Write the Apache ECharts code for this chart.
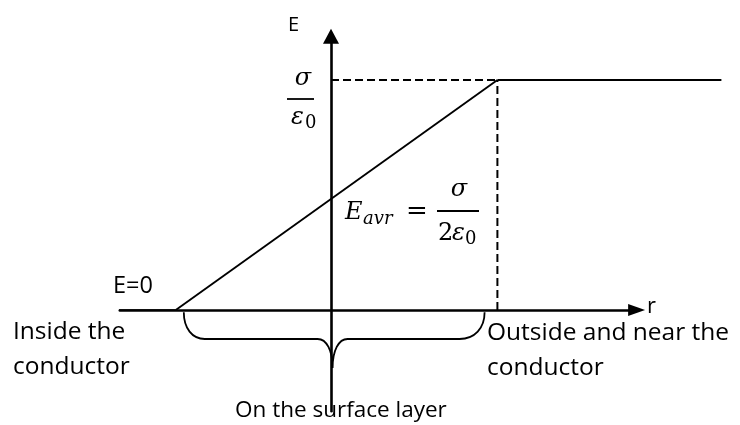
<!DOCTYPE html>
<html>
<head>
<meta charset="utf-8">
<script src="https://cdn.jsdelivr.net/npm/echarts@6/dist/echarts.min.js"></script>
<style>
html, body { margin: 0; padding: 0; background: #fff; }
#chart { width: 740px; height: 425px; }
</style>
</head>
<body>
<div id="chart"></div>
<script>
// E in units of sigma/eps0, r in arbitrary units (layer from rLayer[0] to rLayer[1])
var rInside = [-1.43, -0.97], eInside = [0, 0];
var rLayer = [-0.97, 1.04], eLayer = [0, 1];
var rOutside = [1.04, 2.44], eOutside = [1, 1];
var rGuideH = [0, 1.04], eGuideH = [1, 1];
var rGuideV = [1.04, 1.04], eGuideV = [0, 1];
// brace: left end / tip / right end, and top / bar / tip heights
var braceR = [-0.92, 0.01, 0.96];
var braceE = [-0.01, -0.126, -0.252];

function pairs(xs, ys) {
	return xs.map(function(x, i) { return [x, ys[i]]; });
}

var sans = '"Open Sans"';
var math = '"DejaVu Serif"';

function txt(x, y, s, font, extra) {
	var st = { text: s, font: font, fill: '#000', verticalAlign: 'middle', align: 'left' };
	if (extra) for (var k in extra) st[k] = extra[k];
	return { type: 'text', x: x, y: y, z: 100, style: st };
}
function bar(x1, x2, y) {
	return { type: 'line', z: 100, shape: { x1: x1, y1: y, x2: x2, y2: y }, style: { stroke: '#000', lineWidth: 1.8 } };
}

var chart = echarts.init(document.getElementById('chart'));

// series live on grid 1 (same scale, wider) so the outside line is not clipped
var lineBase = { type: 'line', symbol: 'none', silent: true, xAxisIndex: 1, yAxisIndex: 1 };
var hidden = { show: false };

var option = {
	backgroundColor: '#fff',
	animation: false,
	grid: [
		{ left: 119.8, right: 103.4, top: 36.3, bottom: 13.8 },
		{ left: 119.8, right: 15.4, top: 36.3, bottom: 13.8 }
	],
	xAxis: [{
		type: 'value', min: -1.32, max: 1.91, gridIndex: 0,
		axisLine: { show: true, onZero: true, symbol: ['none', 'triangle'], symbolSize: [12, 17],
			lineStyle: { color: '#000', width: 2.6 } },
		axisTick: hidden, axisLabel: hidden, splitLine: hidden
	}, {
		type: 'value', min: -1.32, max: 2.46, gridIndex: 1, show: false, splitLine: hidden
	}],
	yAxis: [{
		type: 'value', min: -0.44, max: 1.19, gridIndex: 0,
		axisLine: { show: true, onZero: true, symbol: ['none', 'triangle'], symbolSize: [16, 15],
			lineStyle: { color: '#000', width: 2.6 } },
		axisTick: hidden, axisLabel: hidden, splitLine: hidden
	}, {
		type: 'value', min: -0.44, max: 1.19, gridIndex: 1, show: false, splitLine: hidden
	}],
	series: [
		Object.assign({}, lineBase, { data: pairs(rInside, eInside), lineStyle: { color: '#000', width: 1.5 } }),
		Object.assign({}, lineBase, { data: pairs(rLayer, eLayer), lineStyle: { color: '#000', width: 1.9 } }),
		Object.assign({}, lineBase, { data: pairs(rOutside, eOutside), lineStyle: { color: '#000', width: 1.9 } }),
		Object.assign({}, lineBase, { data: pairs(rGuideH, eGuideH), lineStyle: { color: '#000', width: 2, type: [8, 4] } }),
		Object.assign({}, lineBase, { data: pairs(rGuideV, eGuideV), lineStyle: { color: '#000', width: 2, type: [8, 4] } }),
		{
			type: 'custom', silent: true, xAxisIndex: 1, yAxisIndex: 1,
			data: [[braceR[1], braceE[2]]],
			renderItem: function(params, api) {
				var l = api.coord([braceR[0], braceE[0]]);
				var c = api.coord([braceR[1], braceE[2]]);
				var r = api.coord([braceR[2], braceE[0]]);
				var yb = api.coord([0, braceE[1]])[1];
				var dl = 21, dc = 15, dr = 25;
				var d = 'M' + l[0] + ',' + l[1] +
					' C' + l[0] + ',' + (l[1] + (yb - l[1]) * 0.6) + ' ' + (l[0] + dl * 0.4) + ',' + yb + ' ' + (l[0] + dl) + ',' + yb +
					' L' + (c[0] - dc) + ',' + yb +
					' C' + (c[0] - dc * 0.4) + ',' + yb + ' ' + c[0] + ',' + (yb + (c[1] - yb) * 0.4) + ' ' + c[0] + ',' + c[1] +
					' C' + c[0] + ',' + (yb + (c[1] - yb) * 0.4) + ' ' + (c[0] + dc * 0.4) + ',' + yb + ' ' + (c[0] + dc) + ',' + yb +
					' L' + (r[0] - dr) + ',' + yb +
					' C' + (r[0] - dr * 0.4) + ',' + yb + ' ' + r[0] + ',' + (r[1] + (yb - r[1]) * 0.6) + ' ' + r[0] + ',' + r[1];
				return { type: 'path', shape: { pathData: d }, style: { fill: 'none', stroke: '#000', lineWidth: 1.8 } };
			}
		}
	],
	graphic: [
		txt(288, 25.5, 'E', '20px ' + sans),
		txt(647, 306.5, 'r', '22px ' + sans),
		txt(113, 286.5, 'E=0', '23.5px ' + sans),
		txt(13, 332.5, 'Inside the', '24.5px ' + sans),
		txt(13, 367.5, 'conductor', '24.5px ' + sans),
		txt(487, 333.5, 'Outside and near the', '24.5px ' + sans),
		txt(487, 368.5, 'conductor', '24.5px ' + sans),
		txt(235, 411, 'On the surface layer', '22.5px ' + sans),
		// sigma / eps0
		txt(303, 78.7, 'σ', 'italic 24px ' + math, { align: 'center' }),
		bar(287, 314, 99),
		txt(291, 117.7, 'ε', 'italic 24px ' + math),
		txt(305, 123.5, '0', '18px ' + math),
		// E_avr = sigma / 2 eps0
		txt(345, 212.7, 'E', 'italic 24px ' + math),
		txt(363, 219.8, 'avr', 'italic 18px ' + math),
		txt(406, 212, '=', '26px ' + math),
		txt(459, 189.7, 'σ', 'italic 24px ' + math, { align: 'center' }),
		bar(437, 479, 211),
		txt(438, 233.7, '2', '24px ' + math),
		txt(452, 233.7, 'ε', 'italic 24px ' + math),
		txt(465, 239.8, '0', '18px ' + math)
	]
};

chart.setOption(option);
window.addEventListener('resize', chart.resize);
</script>
</body>
</html>
